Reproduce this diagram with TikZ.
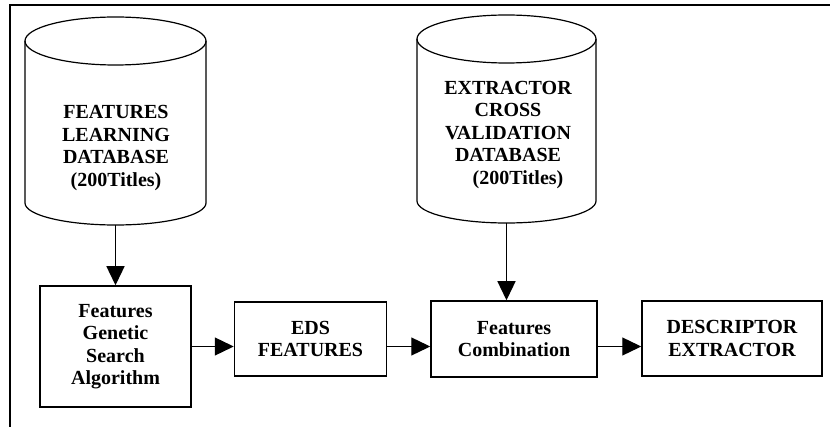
\documentclass[tikz,border=0pt]{standalone}
\usepackage{fontspec}
\setmainfont{Liberation Serif}
\usetikzlibrary{arrows.meta, positioning, calc}

\begin{document}
\begin{tikzpicture}[
  x=1pt, y=-1pt,
  every node/.style={font=\bfseries\fontsize{20}{22.5}\selectfont, align=center},
  dbstore/.style={inner sep=0pt, outer sep=0pt},
  dbline/.style={line width=1.2pt},
  stagebox/.style={draw, line width=1.5pt, inner sep=0pt},
  flow/.style={-{Triangle[length=19pt, width=18pt]}, line width=1.3pt}
]
\useasboundingbox (0,0) rectangle (830,427);

% frame (top and left edges only)
\draw[line width=2pt] (10,427) -- (10,5) -- (830,5);

% databases
\node[dbstore, minimum width=181pt, minimum height=208pt] (db1) at (115.5,121) {};
\node at (116,148) {FEATURES\\LEARNING\\DATABASE\\(200Titles)};

\node[dbstore, minimum width=179pt, minimum height=208pt] (db2) at (506.5,119) {};
\node at (508,135) {EXTRACTOR\\CROSS\\VALIDATION\\DATABASE\\\hspace*{20pt}(200Titles)};

% cylinder outlines round the two database nodes
\foreach \db/\rx in {db1/90.5, db2/89.5} {
  \draw[dbline] ([yshift=-24pt]\db.north west) -- ([yshift=22pt]\db.south west)
    arc[start angle=180, end angle=360, x radius=\rx pt, y radius=22pt]
    -- ([yshift=-24pt]\db.north east);
  \draw[dbline] ([yshift=-24pt]\db.north) ellipse[x radius=\rx pt, y radius=24pt];
}

% processing stages
\node[stagebox, minimum width=151pt, minimum height=121pt] (search) at (115.5,346.5)
  {Features\\Genetic\\Search\\Algorithm};
\node[stagebox, minimum width=152pt, minimum height=74pt] (eds) at (310.5,339)
  {EDS\\FEATURES};
\node[stagebox, minimum width=166pt, minimum height=76pt] (combo) at (514,339)
  {Features\\Combination};
\node[stagebox, minimum width=180pt, minimum height=75pt] (extract) at (732,338.5)
  {DESCRIPTOR\\EXTRACTOR};

% connectors
\draw[flow] (db1.south) -- (search.north);
\draw[flow] (db2.south) -- (db2.south |- combo.north);
\draw[flow] (search.east) -- (search.east -| eds.west);
\draw[flow] (search.east -| eds.east) -- (search.east -| combo.west);
\draw[flow] (search.east -| combo.east) -- (search.east -| extract.west);

\end{tikzpicture}
\end{document}
